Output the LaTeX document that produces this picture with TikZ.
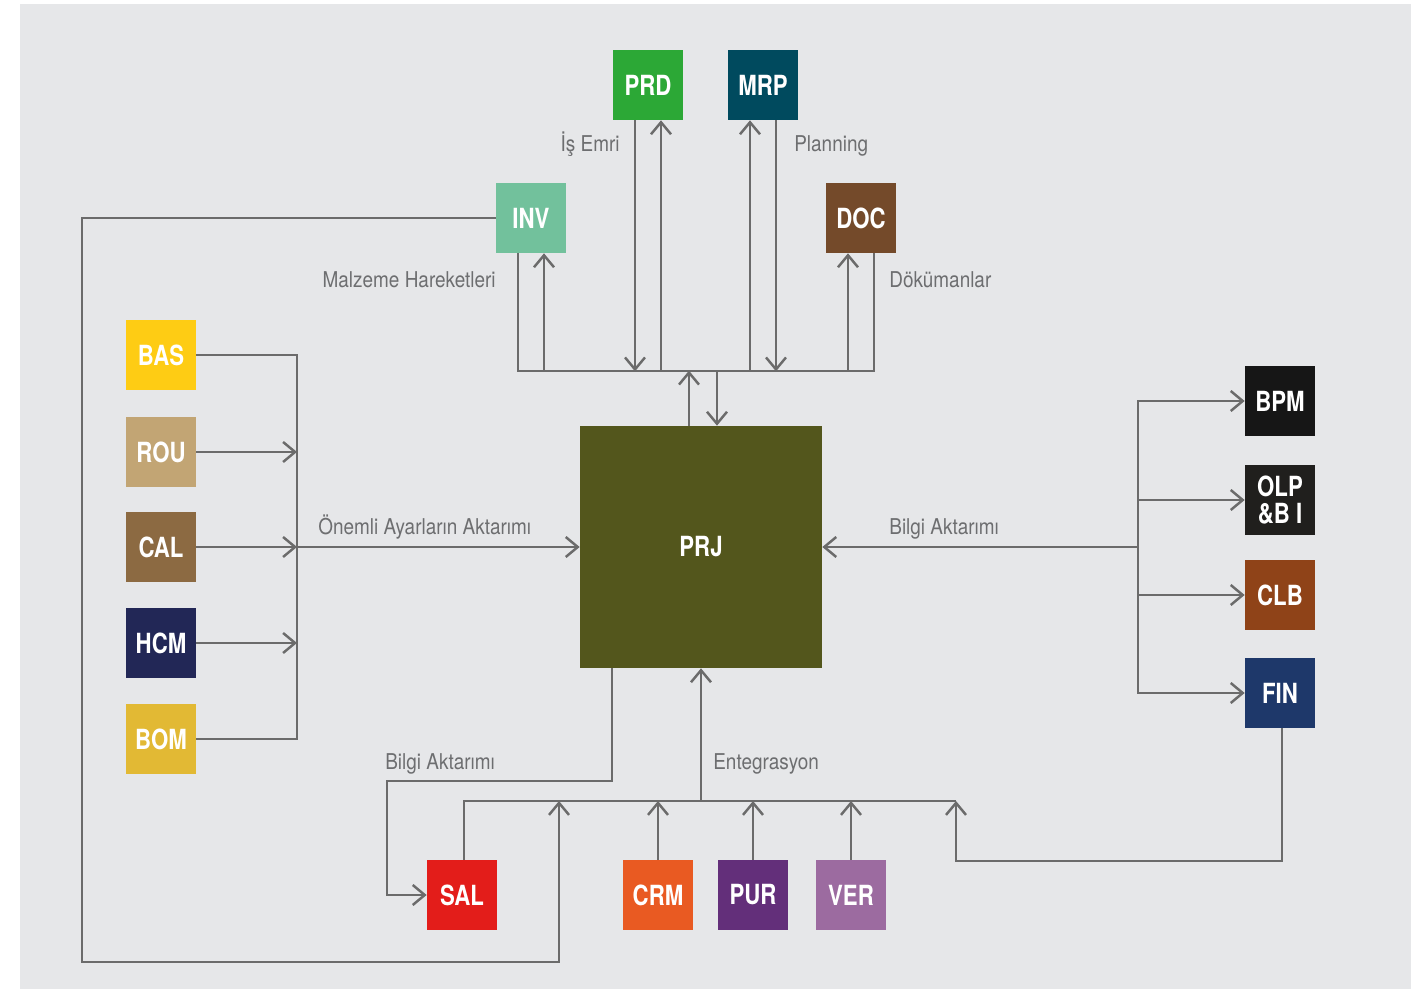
\documentclass[tikz,border=0pt]{standalone}
\usepackage{fontspec}
\setmainfont{TeX Gyre Heros}[FakeStretch=0.87]
\newfontfamily\boxfont{TeX Gyre Heros}[FakeStretch=0.8]
\usetikzlibrary{arrows.meta,calc}

\definecolor{bgray}{HTML}{E6E7E9}
\definecolor{wiregray}{HTML}{6B6B6B}
\definecolor{textgray}{HTML}{6D6E70}
\definecolor{prdgreen}{HTML}{2CA836}
\definecolor{mrpteal}{HTML}{004A5E}
\definecolor{invgreen}{HTML}{72C19C}
\definecolor{docbrown}{HTML}{744A2A}
\definecolor{basyellow}{HTML}{FECC14}
\definecolor{routan}{HTML}{C2A574}
\definecolor{calbrown}{HTML}{8C6A42}
\definecolor{hcmnavy}{HTML}{222756}
\definecolor{bomgold}{HTML}{E2B934}
\definecolor{prjolive}{HTML}{53561C}
\definecolor{bpmblack}{HTML}{161616}
\definecolor{olpblack}{HTML}{201F1D}
\definecolor{clbrust}{HTML}{8F4318}
\definecolor{finblue}{HTML}{1E386A}
\definecolor{salred}{HTML}{E31D1A}
\definecolor{crmorange}{HTML}{E95A22}
\definecolor{purpurple}{HTML}{632F7A}
\definecolor{vermauve}{HTML}{9C6BA0}

\begin{document}
\begin{tikzpicture}
    [
      x=0.02cm, y=-0.02cm,
      wire/.style={wiregray, line width=1.4pt},
      box/.style={minimum size=1.4cm, inner sep=0pt, text=white,
        font=\boxfont\bfseries\fontsize{15.8}{15.1}\selectfont},
      lbl/.style={text=textgray, inner sep=0pt, anchor=base west,
        font=\fontsize{12.4}{14}\selectfont},
      >={Straight Barb[length=2.4mm,width=4mm]},
    ]
    %
    \fill [white] (0, 0) rectangle (1411, 989);
    \fill [bgray] (20, 4) rectangle (1411, 989);
    \useasboundingbox (0, 0) rectangle (1411, 989);

    % top
    \node [box, fill=prdgreen] (prd) at (648, 85) {PRD};
    \node [box, fill=mrpteal] (mrp) at (763, 85) {MRP};
    \node [box, fill=invgreen] (inv) at (531, 218) {INV};
    \node [box, fill=docbrown] (doc) at (861, 218) {DOC};

    % left
    \node [box, fill=basyellow] (bas) at (161, 355) {BAS};
    \node [box, fill=routan] (rou) at (161, 452) {ROU};
    \node [box, fill=calbrown] (cal) at (161, 547) {CAL};
    \node [box, fill=hcmnavy] (hcm) at (161, 643) {HCM};
    \node [box, fill=bomgold] (bom) at (161, 739) {BOM};

    % centre
    \node [box, fill=prjolive, minimum size=4.84cm] (prj) at (701, 547) {PRJ};

    % right
    \node [box, fill=bpmblack] (bpm) at (1280, 401) {BPM};
    \node [box, fill=olpblack, align=center] (olp) at (1280, 500) {OLP\\\&B I};
    \node [box, fill=clbrust] (clb) at (1280, 595) {CLB};
    \node [box, fill=finblue] (fin) at (1280, 693) {FIN};

    % bottom
    \node [box, fill=salred] (sal) at (462, 895) {SAL};
    \node [box, fill=crmorange] (crm) at (658, 895) {CRM};
    \node [box, fill=purpurple] (pur) at (753, 895) {PUR};
    \node [box, fill=vermauve] (ver) at (851, 895) {VER};

    % top bus
    \coordinate (tbus) at (701, 371);
    \draw [wire] ($(inv.south)+(-13,0)$) |- (tbus) -| ($(doc.south)+(13,0)$);
    \foreach \n/\dx/\dy in {inv/13/118, prd/13/251, mrp/-13/251, doc/-13/118} {
      \draw [wire,->] ($(\n.south)+(\dx,\dy)$) -- ($(\n.south)+(\dx,0)$);
    }
    \foreach \n/\dx/\dy in {prd/-13/251, mrp/13/251} {
      \draw [wire,->] ($(\n.south)+(\dx,0)$) -- ($(\n.south)+(\dx,\dy)$);
    }
    \draw [wire,->] ($(prj.north)+(-12,0)$) -- ($(prj.north)+(-12,-55)$);
    \draw [wire,->] ($(prj.north)+(16,-55)$) -- ($(prj.north)+(16,0)$);

    % left bus
    \coordinate (lbus) at (297, 547);
    \draw [wire] (bas.east) -| (lbus) |- (bom.east);
    \draw [wire,->] (rou.east) -- (rou.east -| lbus);
    \draw [wire,->] (cal.east) -- (lbus);
    \draw [wire,->] (hcm.east) -- (hcm.east -| lbus);
    \draw [wire,->] (lbus) -- (prj.west);

    % right bus
    \coordinate (rbus) at (1138, 547);
    \draw [wire,->] (rbus) -- (prj.east);
    \foreach \n in {bpm, olp, clb, fin} {
      \draw [wire,->] (rbus) |- (\n.west);
    }

    % bottom bus
    \coordinate (bbus) at (701, 801);
    \coordinate (bend) at (387, 781);
    \coordinate (bright) at (956, 801);
    \coordinate (loopin) at (559, 801);
    \draw [wire] ($(sal.north)+(2,0)$) |- (bright);
    \draw [wire,->] (bbus) -- (prj.south);
    \foreach \n in {crm, pur, ver} {
      \draw [wire,->] (\n.north) -- (\n.north |- bbus);
    }
    \draw [wire,->] ($(prj.south)+(-89,0)$) |- (bend) |- (sal.west);
    \draw [wire,->] ($(fin.south)+(2,0)$) |- (956, 861) -- (bright);
    \draw [wire,->] (inv.west) -| (82, 962) -| (loopin);

    % labels
    \node [lbl, anchor=base east] (lisemri) at (620, 152) {İş Emri};
    \node [lbl] (lplanning) at (794, 152) {Planning};
    \node [lbl, anchor=base east] (lmalzeme) at (496, 288) {Malzeme Hareketleri};
    \node [lbl] (ldokuman) at (889, 288) {Dökümanlar};
    \node [lbl] (layar) at (318, 535) {Önemli Ayarların Aktarımı};
    \node [lbl] (lbilgir) at (889, 535) {Bilgi Aktarımı};
    \node [lbl] (lbilgib) at (385, 770) {Bilgi Aktarımı};
    \node [lbl] (lenteg) at (713, 770) {Entegrasyon};
  \end{tikzpicture}
\end{document}
